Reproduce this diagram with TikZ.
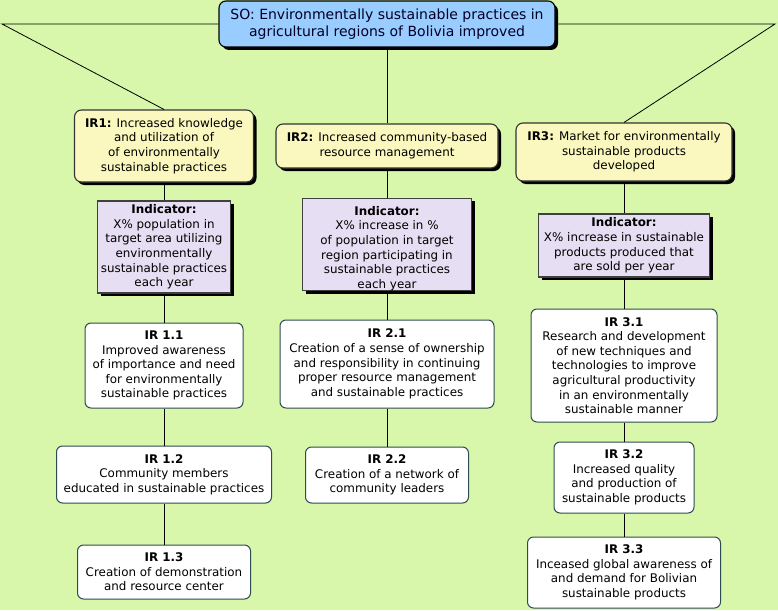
\documentclass[tikz,border=0pt]{standalone}
\usepackage{fontspec}
\setmainfont{DejaVu Sans}
\usetikzlibrary{shadows}
\definecolor{bg}{RGB}{216,247,170}
\definecolor{sofill}{RGB}{153,204,255}
\definecolor{irfill}{RGB}{250,248,190}
\definecolor{indfill}{RGB}{230,222,242}
\definecolor{slate}{RGB}{45,75,80}
\tikzset{
  base/.style={inner sep=0pt, align=center, font=\fontsize{11.9}{14.6}\selectfont},
  shad/.style={drop shadow={shadow xshift=3pt, shadow yshift=-3pt, fill=black, opacity=1}},
  sobox/.style={base, shad, draw=black, line width=1.1pt, fill=sofill, rounded corners=7pt, font=\fontsize{14}{16.7}\selectfont, text=black!85!blue},
  irbox/.style={base, shad, draw=black!80, line width=1.1pt, fill=irfill, rounded corners=7pt},
  indbox/.style={base, shad, draw=black!75, line width=1.1pt, fill=indfill},
  subbox/.style={base, draw=slate, line width=1pt, fill=white, rounded corners=6pt},
  conn/.style={draw=black, line width=0.8pt}
}
\begin{document}
\begin{tikzpicture}[x=1pt, y=-1pt]
\fill[bg] (0,0) rectangle (778,610);
\useasboundingbox (0,0) rectangle (778,610);

\coordinate (L) at (2,24);
\coordinate (R) at (775,24);

% SO
\node[sobox, minimum width=336pt, minimum height=46pt] (SO) at (387,24)
  {SO: Environmentally sustainable practices in\\agricultural regions of Bolivia improved};

% IR level
\node[irbox, minimum width=179pt, minimum height=72pt] (IR1) at (164,146)
  {\textbf{IR1:} Increased knowledge\\and utilization of\\of environmentally\\sustainable practices};
\node[irbox, minimum width=222pt, minimum height=44pt] (IR2) at (387,146)
  {\textbf{IR2:} Increased community-based\\resource management};
\node[irbox, minimum width=216pt, minimum height=58pt] (IR3) at (624,152)
  {\textbf{IR3:} Market for environmentally\\sustainable products\\developed};

% Indicators
\node[indbox, minimum width=133pt, minimum height=92pt] (Ind1) at (164,247)
  {\textbf{Indicator:}\\X\% population in\\target area utilizing\\environmentally\\sustainable practices\\each year};
\node[indbox, minimum width=169pt, minimum height=87pt] (Ind2) at (387,244.5)
  {\rule{0pt}{17pt}\textbf{Indicator:}\\X\% increase in \%\\of population in target\\region participating in\\sustainable practices\\each year};
\node[indbox, minimum width=171pt, minimum height=63pt] (Ind3) at (624,245.5)
  {\textbf{Indicator:}\\X\% increase in sustainable\\products produced that\\are sold per year};

% Sub IRs column 1
\node[subbox, minimum width=158pt, minimum height=85pt] (IR11) at (164,365.5)
  {\textbf{IR 1.1}\\Improved awareness\\of importance and need\\for environmentally\\sustainable practices};
\node[subbox, minimum width=215pt, minimum height=57pt] (IR12) at (164,474.5)
  {\textbf{IR 1.2}\\Community members\\educated in sustainable practices};
\node[subbox, minimum width=173pt, minimum height=54pt] (IR13) at (164,572)
  {\textbf{IR 1.3}\\Creation of demonstration\\and resource center};

% column 2
\node[subbox, minimum width=214pt, minimum height=88pt] (IR21) at (387,364)
  {\textbf{IR 2.1}\\Creation of a sense of ownership\\and responsibility in continuing\\proper resource management\\and sustainable practices};
\node[subbox, minimum width=163pt, minimum height=56pt] (IR22) at (387,475)
  {\textbf{IR 2.2}\\Creation of a network of\\community leaders};

% column 3
\node[subbox, minimum width=186pt, minimum height=113pt] (IR31) at (624,365.5)
  {\textbf{IR 3.1}\\Research and development\\of new techniques and\\technologies to improve\\agricultural productivity\\in an environmentally\\sustainable manner};
\node[subbox, minimum width=140pt, minimum height=71pt] (IR32) at (624,477.5)
  {\textbf{IR 3.2}\\Increased quality\\and production of\\sustainable products};
\node[subbox, minimum width=193pt, minimum height=71pt] (IR33) at (624,572.5)
  {\textbf{IR 3.3}\\Inceased global awareness of\\and demand for Bolivian\\sustainable products};

% connectors
\draw[conn] (SO.west) -- (L) -- (IR1.north);
\draw[conn] (SO.east) -- (R) -- (IR3.north);
\draw[conn] (SO.south) -- (IR2.north);
\draw[conn] (IR1.south) -- (Ind1.north);
\draw[conn] (Ind1.south) -- (IR11.north);
\draw[conn] (IR11.south) -- (IR12.north);
\draw[conn] (IR12.south) -- (IR13.north);
\draw[conn] (IR2.south) -- (Ind2.north);
\draw[conn] (Ind2.south) -- (IR21.north);
\draw[conn] (IR21.south) -- (IR22.north);
\draw[conn] (IR3.south) -- (Ind3.north);
\draw[conn] (Ind3.south) -- (IR31.north);
\draw[conn] (IR31.south) -- (IR32.north);
\draw[conn] (IR32.south) -- (IR33.north);
\end{tikzpicture}
\end{document}
